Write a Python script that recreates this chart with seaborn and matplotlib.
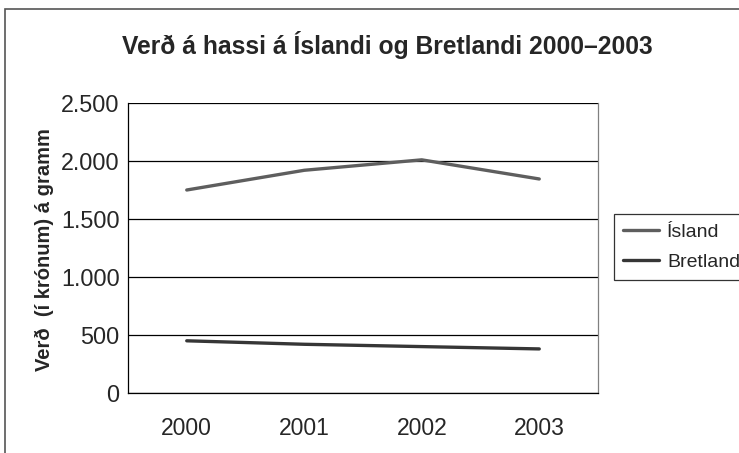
import numpy as np
import pandas as pd
import matplotlib
matplotlib.use("Agg")
import matplotlib.pyplot as plt
import seaborn as sns
from matplotlib import font_manager
from matplotlib.patches import Rectangle
from matplotlib.ticker import FuncFormatter, FixedLocator

years = ["2000", "2001", "2002", "2003"]
island = [1750, 1920, 2010, 1845]
bretland = [450, 420, 400, 380]
series_names = ["Ísland", "Bretland"]
series_colors = ["#5e5e5e", "#363636"]

sns.set_style("white")
installed = {f.name for f in font_manager.fontManager.ttflist}
base_font = "Liberation Sans" if "Liberation Sans" in installed else "DejaVu Sans"
narrow_font = "Liberation Sans Narrow" if "Liberation Sans Narrow" in installed else base_font
plt.rcParams["font.family"] = [base_font, "DejaVu Sans"]

df = pd.DataFrame({
    "x": list(range(len(years))) * 2,
    "value": island + bretland,
    "land": [series_names[0]] * len(years) + [series_names[1]] * len(years),
})

W, H = 739, 453
fig = plt.figure(figsize=(W / 100, H / 100), dpi=100)
ax = fig.add_axes([128 / W, 1 - 393 / H, (598 - 128) / W, (393 - 103) / H])

sns.lineplot(data=df, x="x", y="value", hue="land", palette=series_colors,
             linewidth=2.4, ax=ax, legend=False)

ax.set_xlim(-0.5, len(years) - 0.5)
ax.set_ylim(0, 2500)
ax.set_yticks(np.arange(0, 2501, 500))
ax.yaxis.set_major_formatter(FuncFormatter(lambda v, p: f"{int(v):,}".replace(",", ".")))
ax.set_xticks(range(len(years)))
ax.set_xticklabels(years)
ax.xaxis.set_minor_locator(FixedLocator(np.arange(-0.5, len(years), 1.0)))
ax.tick_params(axis="x", which="major", length=0, pad=17, labelsize=16.5)
ax.tick_params(axis="x", which="minor", length=6, width=0.9, color="black", direction="out")
ax.tick_params(axis="y", length=5, width=0.9, color="black", direction="out", pad=1, labelsize=16.8)
ax.set_xlabel("")
ax.set_ylabel("")

ax.grid(axis="y", color="black", linewidth=0.9)
ax.set_axisbelow(True)
ax.spines["top"].set_visible(False)
ax.spines["left"].set_color("black")
ax.spines["bottom"].set_color("black")
ax.spines["right"].set_color("#808080")
for s in ax.spines.values():
    s.set_linewidth(0.9)

fig.text(387 / W, 1 - 45 / H, "Verð á hassi á Íslandi og Bretlandi 2000–2003",
         ha="center", va="center", fontsize=17.7, fontweight="bold",
         family=[narrow_font, "DejaVu Sans"])
fig.text(44 / W, 1 - 250 / H, "Verð  (í krónum) á gramm", rotation=90,
         ha="center", va="center", fontsize=14.5, fontweight="bold")

handles = [plt.Line2D([], [], color=c, linewidth=2.4) for c in series_colors]
leg = fig.legend(handles, series_names, loc="upper left",
                 bbox_to_anchor=(614 / W, 1 - 214 / H), frameon=True,
                 fancybox=False, fontsize=14, handlelength=1.85,
                 handletextpad=0.4, borderpad=0.47, labelspacing=0.64,
                 borderaxespad=0)
leg.get_frame().set_edgecolor("black")
leg.get_frame().set_linewidth(0.9)

fig.patches.append(Rectangle((5 / W, -0.1), 1.2, 1 - 9 / H + 0.1,
                             transform=fig.transFigure, fill=False,
                             edgecolor="#555555", linewidth=1.2))

fig.savefig("out.png", dpi=100)
